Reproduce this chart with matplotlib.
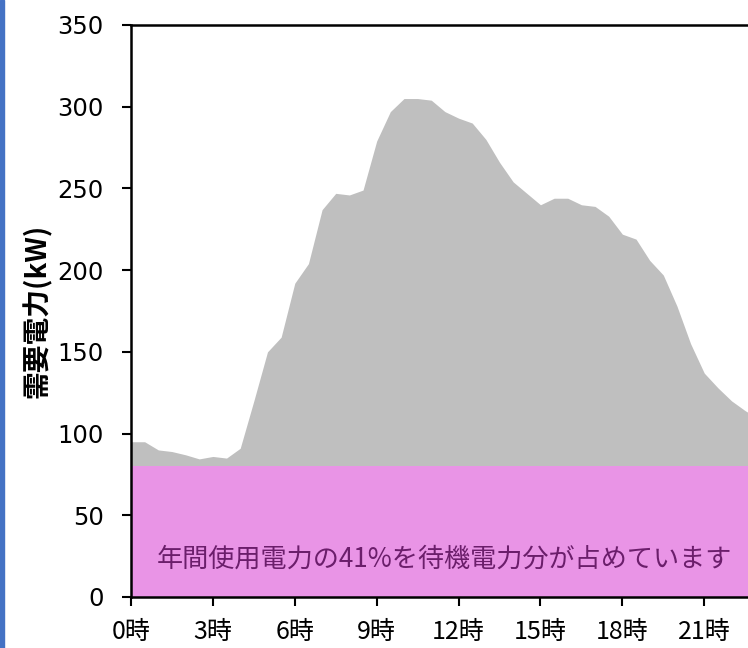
import numpy as np
import matplotlib.pyplot as plt
from matplotlib.patches import Rectangle

plt.rcParams['font.family'] = ['Noto Sans CJK JP', 'DejaVu Sans']

# 30-minute demand readings (kW), 0:00 - 23:30
demand = [95, 95, 90, 89, 87, 84.5, 86, 85, 91, 120,
          150, 159, 192, 204, 237, 247, 246, 249, 279, 297,
          305, 305, 304, 297, 293, 290, 280, 266, 254, 247,
          240, 244, 244, 240, 239, 233, 222, 219, 206, 197,
          178, 155, 137, 128, 120, 114, 109, 104]
standby = 80  # base load (kW)
hours = np.arange(len(demand)) * 0.5

tick_hours = [0, 3, 6, 9, 12, 15, 18, 21]
tick_labels = [f'{h}時' for h in tick_hours]
yticks = [0, 50, 100, 150, 200, 250, 300, 350]
note = '年間使用電力の41%を待機電力分が占めています'

fig = plt.figure(figsize=(7.48, 6.48), dpi=100)
ax = fig.add_axes([131 / 748, 51 / 648, 641.5 / 748, 572 / 648])

ax.fill_between(hours, 0, demand, color='#BFBFBF', lw=0)
ax.fill_between(hours, 0, standby, color='#E994E6', lw=0)

ax.text(11.5, 23, note, ha='center', va='center', fontsize=18.8, color='#6B1E6B')

ax.set_xlim(0, 23.5)
ax.set_ylim(0, 350)
ax.set_xticks(tick_hours)
ax.set_xticklabels(tick_labels, fontsize=18)
ax.set_yticks(yticks)
ax.set_yticklabels([str(v) for v in yticks], fontsize=17.5, family='DejaVu Sans')
ax.tick_params(axis='both', direction='out', length=6.5, width=1.5)
ax.tick_params(axis='x', pad=9)
ax.tick_params(axis='y', pad=13)

for side in ['left', 'bottom', 'top']:
    ax.spines[side].set_linewidth(1.8)
ax.spines['right'].set_visible(False)

ax.set_ylabel('需要電力(kW)', fontsize=20, fontweight='bold', labelpad=4)

# blue bar on the left edge
fig.patches.append(Rectangle((0, 0), 4 / 748, 1, transform=fig.transFigure,
                             color='#4472C4', zorder=5))

fig.savefig('out.png', dpi=100)
